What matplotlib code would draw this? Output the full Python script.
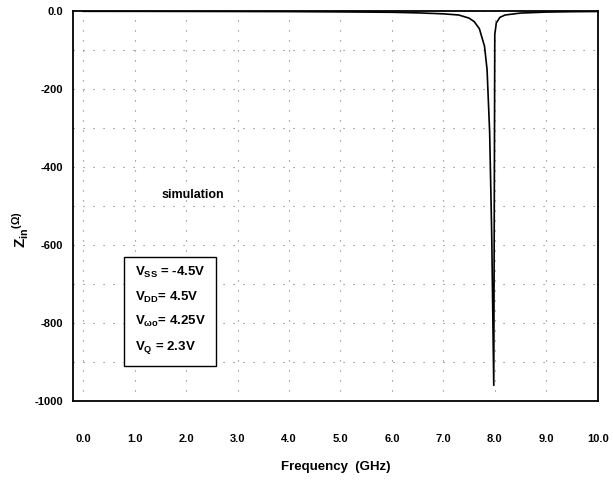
import numpy as np
import matplotlib
matplotlib.use("Agg")
import matplotlib.pyplot as plt

plt.rcParams['font.family'] = ['Liberation Sans', 'DejaVu Sans']
plt.rcParams['font.weight'] = 'bold'
plt.rcParams['mathtext.fontset'] = 'custom'
plt.rcParams['mathtext.rm'] = 'Liberation Sans:bold'
plt.rcParams['mathtext.bf'] = 'Liberation Sans:bold'
plt.rcParams['mathtext.it'] = 'Liberation Sans:bold'
plt.rcParams['mathtext.default'] = 'bf'

# input impedance vs frequency
freq = [0.0, 1.0, 2.0, 3.0, 4.0, 5.0, 6.0, 6.5, 7.0, 7.3, 7.5, 7.6, 7.7,
        7.8, 7.85, 7.9, 7.94, 7.98, 8.0, 8.03, 8.1, 8.2, 8.5, 9.0, 9.5, 10.0]
zin = [-0.5, -0.6, -0.8, -1.0, -1.3, -2.0, -3.0, -4.5, -7.0, -10.0, -18.0,
       -27.0, -45.0, -90.0, -150.0, -310.0, -570.0, -960.0, -60.0, -30.0,
       -16.0, -10.0, -5.0, -2.5, -1.5, -1.0]

xticks = np.arange(0, 11, 1.0)
yticks = [0, -200, -400, -600, -800, -1000]
ytick_labels = ['0.0', '-200', '-400', '-600', '-800', '-1000']

bias = [r'V$_{SS}$ = -4.5V', r'V$_{DD}$= 4.5V',
        r'V$_{\omega o}$= 4.25V', r'V$_{Q}$ = 2.3V']

fig = plt.figure(figsize=(6.13, 4.83), dpi=100)
ax = fig.add_axes([0.119, 0.170, 0.856, 0.807])

ax.plot(freq, zin, color='black', lw=1.2)

ax.set_xlim(-0.2, 10.0)
ax.set_ylim(-1000, 0)
ax.set_xticks(xticks)
ax.set_xticklabels(['%.1f' % t for t in xticks])
ax.set_yticks(yticks)
ax.set_yticklabels(ytick_labels)
ax.set_yticks(np.arange(-900, 0, 100), minor=True)
ax.tick_params(axis='x', length=0, pad=24, labelsize=8)
ax.tick_params(axis='y', length=0, pad=7, labelsize=8)
ax.tick_params(which='minor', length=0)

ax.grid(True, which='both', color='#777777', lw=0.8, linestyle=(0, (1, 8)))
for s in ax.spines.values():
    s.set_linewidth(1.3)

ax.set_xlabel('Frequency  (GHz)', fontsize=9.5, fontweight='bold', labelpad=12)
ax.set_ylabel(r'Z$_{in}$$^{(\Omega)}$', fontsize=11, fontweight='bold')
ax.yaxis.set_label_coords(-0.08, 0.44)

ax.text(1.52, -472, 'simulation', fontsize=9, fontweight='bold', va='center')

box_text = '\n'.join(bias)
ax.text(1.0, -768, box_text, fontsize=9.5, fontweight='bold', linespacing=1.85,
        va='center', ha='left',
        bbox=dict(boxstyle='square,pad=0.8', fc='white', ec='black', lw=1.0))

fig.savefig('out.png', dpi=100)
